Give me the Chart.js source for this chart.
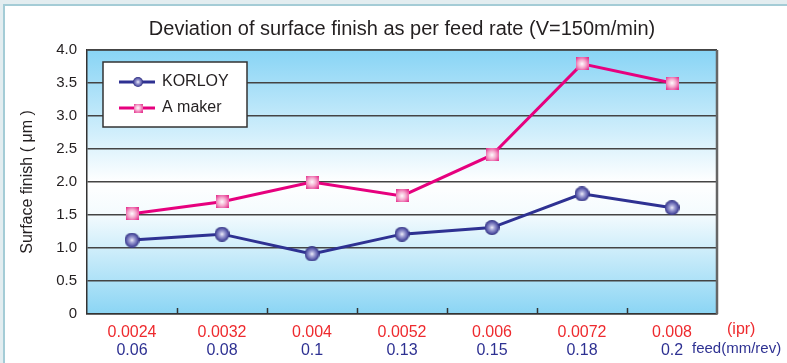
<!DOCTYPE html>
<html>
<head>
<meta charset="utf-8">
<title>Deviation of surface finish as per feed rate</title>
<script src="https://cdn.jsdelivr.net/npm/chart.js@4/dist/chart.umd.min.js"></script>
<style>
  html, body { margin: 0; padding: 0; }
  body { width: 787px; height: 363px; background: #e3edf0; position: relative; overflow: hidden; }
  .frame { position: absolute; left: 3px; top: 4px; right: 0; bottom: 0; background: #fff;
           border-left: 2px solid #a4ccd6; border-top: 2px solid #a4ccd6; }
  .wrap { position: absolute; left: 0; top: 0; width: 787px; height: 363px; }
</style>
</head>
<body>
<div class="frame"></div>
<div class="wrap"><canvas id="finishChart" width="787" height="363"></canvas></div>
<script>
  // Feed rate categories (two label rows under the axis)
  const iprLabels = ['0.0024', '0.0032', '0.004', '0.0052', '0.006', '0.0072', '0.008'];
  const feedLabels = ['0.06', '0.08', '0.1', '0.13', '0.15', '0.18', '0.2'];

  // Surface finish values
  const korloyValues = [1.12, 1.21, 0.91, 1.21, 1.31, 1.82, 1.61];
  const aMakerValues = [1.52, 1.70, 2.00, 1.79, 2.41, 3.79, 3.50];

  // Y axis ticks
  const yTicks = [0, 0.5, 1.0, 1.5, 2.0, 2.5, 3.0, 3.5, 4.0];

  const FONT = "'Liberation Sans', Arial, Helvetica, sans-serif";
  const NAVY = '#2e3192';
  const PINK = '#e6007e';
  const RED = '#ee2a2e';

  // Shaded round marker (KORLOY)
  function makeBall(d) {
    const c = document.createElement('canvas');
    c.width = d; c.height = d;
    const ctx = c.getContext('2d');
    const g = ctx.createRadialGradient(d / 2, d / 2, 0, d / 2, d / 2, d / 2);
    g.addColorStop(0, '#f0f0fa');
    g.addColorStop(0.35, '#a0a0d4');
    g.addColorStop(0.8, '#5252a4');
    g.addColorStop(1, '#2a2a78');
    ctx.fillStyle = g;
    ctx.beginPath();
    ctx.arc(d / 2, d / 2, d / 2, 0, Math.PI * 2);
    ctx.fill();
    return c;
  }

  // Shaded square marker (A maker)
  function makeSquare(s) {
    const c = document.createElement('canvas');
    c.width = s; c.height = s;
    const ctx = c.getContext('2d');
    const g = ctx.createRadialGradient(s / 2, s / 2, 0, s / 2, s / 2, s * 0.72);
    g.addColorStop(0, '#ffffff');
    g.addColorStop(0.45, '#f4a6cc');
    g.addColorStop(1, '#e2137f');
    ctx.fillStyle = g;
    ctx.fillRect(0, 0, s, s);
    return c;
  }

  const ball = makeBall(15);
  const square = makeSquare(13);
  const ballSmall = makeBall(10);
  const squareSmall = makeSquare(9);

  // Blue-white-blue wash behind the plot
  const plotBackground = {
    id: 'plotBackground',
    beforeDraw(chart) {
      const { ctx, chartArea: a } = chart;
      const g = ctx.createLinearGradient(0, a.top, 0, a.bottom);
      g.addColorStop(0, '#88d4f5');
      g.addColorStop(0.3, '#cdedfb');
      g.addColorStop(0.5, '#ffffff');
      g.addColorStop(0.62, '#f4fbfe');
      g.addColorStop(1, '#8bd5f4');
      ctx.save();
      ctx.fillStyle = g;
      ctx.fillRect(a.left, a.top, a.right - a.left, a.bottom - a.top);
      ctx.restore();
    }
  };

  // Frame, inward category ticks, unit captions and the boxed legend
  const extras = {
    id: 'extras',
    beforeDatasetsDraw(chart) {
      const { ctx, chartArea: a } = chart;
      const xs = chart.scales.x;
      ctx.save();
      ctx.strokeStyle = '#333';
      ctx.lineWidth = 1.5;
      for (let i = 1; i < iprLabels.length; i++) {
        const px = Math.round((xs.getPixelForTick(i - 1) + xs.getPixelForTick(i)) / 2) + 0.5;
        ctx.beginPath();
        ctx.moveTo(px, a.bottom);
        ctx.lineTo(px, a.bottom - 6);
        ctx.stroke();
      }
      ctx.strokeStyle = '#444';
      ctx.beginPath();
      ctx.moveTo(a.left, a.top);
      ctx.lineTo(a.right, a.top);
      ctx.stroke();
      ctx.strokeStyle = '#666';
      ctx.lineWidth = 2.5;
      ctx.beginPath();
      ctx.moveTo(a.right, a.top);
      ctx.lineTo(a.right, a.bottom);
      ctx.stroke();
      ctx.restore();
    },
    afterDatasetsDraw(chart) {
      const { ctx, chartArea: a } = chart;
      ctx.save();
      // captions to the right of the label rows
      ctx.textBaseline = 'middle';
      ctx.textAlign = 'left';
      ctx.font = '16px ' + FONT;
      ctx.fillStyle = RED;
      ctx.fillText('(ipr)', a.right + 10, 330);
      ctx.font = '15px ' + FONT;
      ctx.fillStyle = NAVY;
      ctx.fillText('feed(mm/rev)', a.right - 25, 349);

      // legend box
      const bx = 103, by = 62, bw = 144, bh = 65;
      ctx.fillStyle = '#fff';
      ctx.fillRect(bx, by, bw, bh);
      ctx.strokeStyle = '#333';
      ctx.lineWidth = 1.5;
      ctx.strokeRect(bx, by, bw, bh);
      const marks = [ballSmall, squareSmall];
      chart.data.datasets.forEach((ds, i) => {
        const y = by + 20 + i * 26;
        ctx.strokeStyle = ds.borderColor;
        ctx.lineWidth = 3;
        ctx.beginPath();
        ctx.moveTo(bx + 16, y);
        ctx.lineTo(bx + 52, y);
        ctx.stroke();
        const m = marks[i];
        ctx.drawImage(m, bx + 35 - m.width / 2, y - m.height / 2);
        ctx.fillStyle = '#231f20';
        ctx.font = '16px ' + FONT;
        ctx.fillText(ds.label, bx + 59, y);
      });
      ctx.restore();
    }
  };

  const ctx = document.getElementById('finishChart').getContext('2d');
  new Chart(ctx, {
    type: 'line',
    data: {
      labels: iprLabels,
      datasets: [
        {
          label: 'KORLOY',
          data: korloyValues,
          borderColor: NAVY,
          borderWidth: 3,
          pointStyle: ball,
          tension: 0
        },
        {
          label: 'A maker',
          data: aMakerValues,
          borderColor: PINK,
          borderWidth: 3,
          pointStyle: square,
          tension: 0
        }
      ]
    },
    options: {
      responsive: false,
      animation: false,
      events: [],
      layout: { padding: { left: 0, right: 70, top: 0, bottom: 0 } },
      plugins: {
        legend: { display: false },
        tooltip: { enabled: false },
        title: {
          display: true,
          fullSize: false,
          text: 'Deviation of surface finish as per feed rate (V=150m/min)',
          color: '#231f20',
          font: { family: FONT, size: 20, weight: 'normal' },
          padding: { top: 17, bottom: 9 }
        }
      },
      scales: {
        x: {
          type: 'category',
          position: 'bottom',
          offset: true,
          grid: { display: false, drawTicks: false },
          border: { display: true, color: '#333', width: 1.5 },
          ticks: { color: RED, font: { family: FONT, size: 16 }, padding: 9, autoSkip: false, maxRotation: 0 },
          afterFit(scale) { scale.height = 26; }
        },
        x2: {
          type: 'category',
          position: 'bottom',
          weight: 1,
          labels: feedLabels,
          offset: true,
          grid: { display: false, drawTicks: false },
          border: { display: false },
          ticks: { color: NAVY, font: { family: FONT, size: 16 }, padding: 1, autoSkip: false, maxRotation: 0 },
          afterFit(scale) { scale.height = 23; }
        },
        y: {
          min: yTicks[0],
          max: yTicks[yTicks.length - 1],
          afterBuildTicks(scale) { scale.ticks = yTicks.map(v => ({ value: v })); },
          grid: { color: '#444', lineWidth: 1.5, drawTicks: false },
          border: { display: true, color: '#333', width: 1.5 },
          ticks: {
            color: '#231f20',
            font: { family: FONT, size: 15 },
            padding: 10,
            callback: v => (v === 0 ? '0' : v.toFixed(1))
          },
          title: {
            display: true,
            text: 'Surface finish ( μm )',
            color: '#231f20',
            font: { family: FONT, size: 16 },
            padding: { top: 18, bottom: 0 }
          },
          afterFit(scale) { scale.width = 87; }
        }
      }
    },
    plugins: [plotBackground, extras]
  });
</script>
</body>
</html>
